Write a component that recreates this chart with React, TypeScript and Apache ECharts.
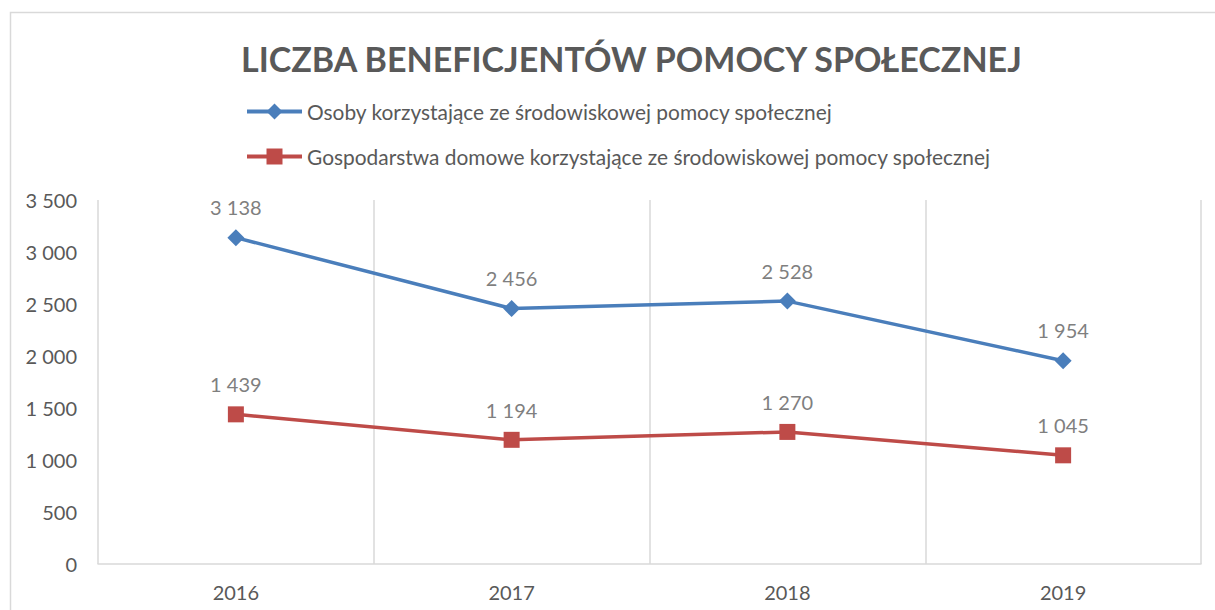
import React, { useEffect, useRef } from "react";
import * as echarts from "echarts";

const years = ["2016", "2017", "2018", "2019"];
const persons = [3138, 2456, 2528, 1954];
const households = [1439, 1194, 1270, 1045];
const seriesNames = [
  "Osoby korzystające ze środowiskowej pomocy społecznej",
  "Gospodarstwa domowe korzystające ze środowiskowej pomocy społecznej",
];
const titleText = "LICZBA BENEFICJENTÓW POMOCY SPOŁECZNEJ";

const fmt = (v: number) => {
  const s = String(Math.round(v));
  return s.replace(/\B(?=(\d{3})+(?!\d))/g, " ");
};

const FONT = "Lato";

export default function App() {
  const ref = useRef<HTMLDivElement>(null);
  useEffect(() => {
    if (!ref.current) return;
    const chart = echarts.init(ref.current, undefined, { renderer: "svg" });
    const labelStyle = {
      show: true,
      position: "top",
      distance: 12,
      fontFamily: FONT,
      fontSize: 20,
      color: "#7f7f7f",
      formatter: (p: any) => fmt(p.value),
    };
    chart.setOption({
      animation: false,
      backgroundColor: "#ffffff",
      textStyle: { fontFamily: FONT },
      title: {
        text: titleText,
        left: 236,
        top: 36,
        textStyle: { fontFamily: FONT, fontSize: 34, fontWeight: "bold", color: "#595959" },
      },
      legend: {
        orient: "vertical",
        left: 245,
        top: 101,
        padding: 0,
        itemWidth: 55,
        itemHeight: 20,
        itemGap: 24,
        lineStyle: { width: 4 },
        textStyle: { fontFamily: FONT, fontSize: 20.9, color: "#595959" },
        data: seriesNames,
      },
      graphic: [
        {
          type: "rect",
          shape: { x: 10.5, y: 12.5, width: 1300, height: 700 },
          style: { fill: "none", stroke: "#d9d9d9", lineWidth: 1.5 },
          silent: true,
        },
      ],
      grid: { left: 98, right: 14, top: 200, bottom: 46 },
      xAxis: {
        type: "category",
        data: years,
        boundaryGap: true,
        axisLine: { show: true, lineStyle: { color: "#d9d9d9", width: 1.5 } },
        axisTick: { show: false },
        axisLabel: { fontFamily: FONT, fontSize: 20, color: "#595959", margin: 18 },
        splitLine: { show: true, showMinLine: true, showMaxLine: true, lineStyle: { color: "#d9d9d9", width: 1.5 } },
      },
      yAxis: {
        type: "value",
        min: 0,
        max: 3500,
        interval: 500,
        axisLine: { show: false },
        axisTick: { show: false },
        splitLine: { show: false },
        axisLabel: { fontFamily: FONT, fontSize: 20, color: "#595959", margin: 21, formatter: (v: number) => fmt(v) },
      },
      series: [
        {
          name: seriesNames[0],
          type: "line",
          data: persons,
          symbol: "diamond",
          symbolSize: 17,
          itemStyle: { color: "#4a7ebb" },
          lineStyle: { color: "#4a7ebb", width: 3.5 },
          label: labelStyle,
        },
        {
          name: seriesNames[1],
          type: "line",
          data: households,
          symbol: "rect",
          symbolSize: 16,
          itemStyle: { color: "#be4b48" },
          lineStyle: { color: "#be4b48", width: 3.5 },
          label: labelStyle,
        },
      ],
    });
    return () => chart.dispose();
  }, []);
  return (
    <div
      ref={ref}
      style={{ position: "fixed", left: 0, top: 0, width: 1215, height: 610 }}
    />
  );
}
